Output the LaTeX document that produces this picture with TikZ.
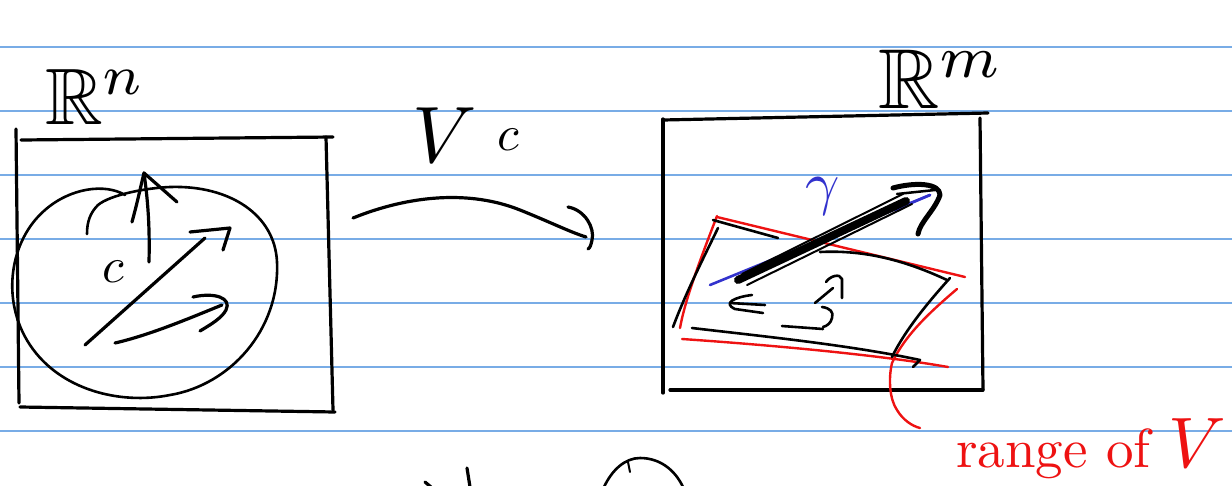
\documentclass[tikz,border=0pt]{standalone}
\usepackage{amssymb}
\usepackage{graphicx}
\definecolor{inkred}{RGB}{238,18,18}
\definecolor{inkblue}{RGB}{50,50,205}
\definecolor{ruleblue}{RGB}{120,172,230}
\begin{document}
\begin{tikzpicture}[x=1pt,y=-1pt,
  ink/.style={draw=black, line width=3.2pt, line cap=round, line join=round},
  redink/.style={draw=inkred, line width=2.4pt, line cap=round, line join=round},
  blueink/.style={draw=inkblue, line width=2.6pt, line cap=round},
  rule/.style={draw=ruleblue, line width=1.2pt},
  lbl/.style={inner sep=0pt, anchor=base west}]
\useasboundingbox (0,0) rectangle (1232,485);
\fill[white] (0,0) rectangle (1232,485);
\foreach \yy in {47,111,175,239,303,367,431} \draw[rule] (0,\yy) -- (1232,\yy);

% ---------- left box R^n ----------
\node[lbl] (Rn) at (45,124) {\scalebox{8}{$\mathbb{R}^n$}};
\draw[ink] (21,140) -- (333,137);
\draw[ink] (16,129) -- (19,403);
\draw[ink] (326,137) -- (333,410);
\draw[ink] (20,407) -- (335,412);
% spiral ellipse
\draw[ink, line width=2.6pt] (125,195) .. controls (105,183) and (70,188) .. (45,210)
  .. controls (10,240) and (0,300) .. (30,345)
  .. controls (60,390) and (120,405) .. (170,395)
  .. controls (230,385) and (280,330) .. (277,262)
  .. controls (275,215) and (230,185) .. (170,187)
  .. controls (145,188) and (110,195) .. (98,205)
  .. controls (90,213) and (87,222) .. (87,234);
% arrows in the disc
\draw[ink] (149,262) .. controls (150,220) and (147,195) .. (144,173);
\draw[ink] (132,222) .. controls (138,200) and (141,185) .. (144,173) -- (177,202);
\draw[ink] (85,345) -- (205,238);
\draw[ink] (190,232) -- (230,228) -- (223,250);
\draw[ink] (115,343) .. controls (150,335) and (190,318) .. (222,305);
\draw[ink] (193,297) .. controls (215,292) and (232,298) .. (226,310) .. controls (222,318) and (210,325) .. (200,331);
\node[lbl] (c) at (102,282) {\scalebox{5}{$c$}};

% ---------- middle map ----------
\node[lbl] (V) at (412,162) {\scalebox{8}{$V$}};
\node[lbl] (c2) at (497,150) {\scalebox{5}{$c$}};
\draw[ink] (353,218) .. controls (410,195) and (470,190) .. (520,210) .. controls (550,222) and (570,232) .. (586,237);
\draw[ink] (568,207) .. controls (585,210) and (595,228) .. (592,240) .. controls (591,245) and (590,248) .. (588,249);

% ---------- right box R^m ----------
\node[lbl] (Rm) at (878,108) {\scalebox{8.5}{$\mathbb{R}^m$}};
\draw[ink] (663,119) -- (663,393);
\draw[ink] (663,120) -- (988,113);
\draw[ink] (980,118) -- (983,390);
\draw[ink] (670,390) -- (983,390);

% red range
\draw[redink] (717,217) -- (965,277);
\draw[redink] (717,216) .. controls (700,260) and (685,300) .. (680,328);
\draw[redink] (682,339) .. controls (770,345) and (880,355) .. (948,367);
\draw[redink] (957,289) .. controls (930,312) and (905,335) .. (892,363)
  .. controls (888,380) and (890,400) .. (897,410) .. controls (903,420) and (912,426) .. (920,428);

% black parallelogram
\draw[ink, line width=2.6pt] (713,220) -- (778,238);
\draw[ink, line width=2.6pt] (718,228) .. controls (700,265) and (685,295) .. (673,327);
\draw[ink, line width=2.6pt] (820,252) .. controls (860,250) and (900,258) .. (947,280);
\draw[ink, line width=2.6pt] (950,278) .. controls (930,300) and (905,330) .. (892,357);
\draw[ink, line width=2.6pt] (692,328) .. controls (760,336) and (850,345) .. (920,360) -- (913,367);

% blue vector and its arrow
\draw[blueink] (710,285) -- (930,195);
\draw[blueink] (895,210) -- (930,195);
\draw[ink, line width=8pt] (738,280) -- (906,201);
\draw[ink, line width=2pt] (742,274) -- (903,194);
\draw[ink, line width=2pt] (747,285) -- (912,204);
\draw[ink, line width=5pt] (893,188) .. controls (915,182) and (940,183) .. (940,195) .. controls (935,210) and (920,222) .. (918,234);
\draw[ink, line width=2.5pt] (897,194) -- (935,190);
\node[lbl] (gam) at (805,203) {\color{inkblue}\scalebox{6}{$\gamma$}};

% small arrows inside
\draw[ink, line width=2.6pt] (765,305) -- (730,303);
\draw[ink, line width=2.6pt] (752,295) .. controls (735,297) and (722,303) .. (735,309) -- (763,313);
\draw[ink, line width=2.6pt] (815,303) -- (833,288);
\draw[ink, line width=2.6pt] (826,282) .. controls (830,276) and (840,273) .. (842,279) -- (842,298);
\draw[ink, line width=2.6pt] (782,326) -- (823,329);
\draw[ink, line width=2.6pt] (822,307) .. controls (830,308) and (834,312) .. (832,318) .. controls (831,323) and (827,326) .. (823,327);

% label
\node[lbl] (range) at (956,467) {\color{inkred}\scalebox{5.5}{range of \scalebox{1.3}{$V$}}};

% bottom partial strokes
\draw[ink] (425,482) -- (431,487);
\draw[ink] (467,468) -- (470,487);
\draw[ink, line width=2.6pt] (604,487) .. controls (612,470) and (625,458) .. (640,458) .. controls (660,458) and (675,470) .. (683,487);
\draw[ink, line width=2pt] (628,462) -- (630,472);
\end{tikzpicture}
\end{document}
